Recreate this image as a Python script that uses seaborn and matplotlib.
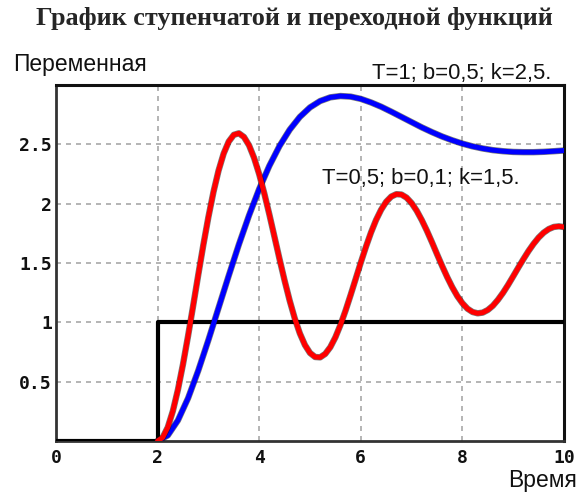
import matplotlib
matplotlib.use("Agg")
import matplotlib.pyplot as plt
import matplotlib.patheffects as pe
import pandas as pd
import seaborn as sns

# Step input: zero until t = 2, then a unit step
step_time = [0.0, 2.0, 10.0]
step_value = [0.0, 1.0, 1.0]

# Response of the lightly damped link (T=0,5; b=0,1; k=1,5), sampled every 0.1 s
red_time = [2.0, 2.1, 2.2, 2.3, 2.4, 2.5, 2.6, 2.7, 2.8, 2.9,
            3.0, 3.1, 3.2, 3.3, 3.4, 3.5, 3.6, 3.7, 3.8, 3.9,
            4.0, 4.1, 4.2, 4.3, 4.4, 4.5, 4.6, 4.7, 4.8, 4.9,
            5.0, 5.1, 5.2, 5.3, 5.4, 5.5, 5.6, 5.7, 5.8, 5.9,
            6.0, 6.1, 6.2, 6.3, 6.4, 6.5, 6.6, 6.7, 6.8, 6.9,
            7.0, 7.1, 7.2, 7.3, 7.4, 7.5, 7.6, 7.7, 7.8, 7.9,
            8.0, 8.1, 8.2, 8.3, 8.4, 8.5, 8.6, 8.7, 8.8, 8.9,
            9.0, 9.1, 9.2, 9.3, 9.4, 9.5, 9.6, 9.7, 9.8, 9.9,
            10.0]
red_value = [0.000, 0.030, 0.115, 0.252, 0.432, 0.647, 0.886, 1.140, 1.399, 1.651,
             1.887, 2.099, 2.279, 2.422, 2.523, 2.580, 2.593, 2.562, 2.492, 2.385,
             2.248, 2.087, 1.909, 1.722, 1.534, 1.352, 1.183, 1.033, 0.907, 0.809,
             0.742, 0.708, 0.705, 0.734, 0.791, 0.874, 0.979, 1.099, 1.231, 1.367,
             1.504, 1.635, 1.756, 1.862, 1.949, 2.016, 2.060, 2.080, 2.077, 2.051,
             2.005, 1.941, 1.862, 1.773, 1.676, 1.575, 1.476, 1.382, 1.296, 1.221,
             1.161, 1.115, 1.087, 1.076, 1.082, 1.104, 1.140, 1.190, 1.249, 1.316,
             1.388, 1.461, 1.532, 1.600, 1.661, 1.714, 1.756, 1.786, 1.804, 1.809,
             1.803]

# Response of the well damped link (T=1; b=0,5; k=2,5), sampled every 0.2 s
blue_time = [2.0, 2.2, 2.4, 2.6, 2.8, 3.0, 3.2, 3.4, 3.6, 3.8,
             4.0, 4.2, 4.4, 4.6, 4.8, 5.0, 5.2, 5.4, 5.6, 5.8,
             6.0, 6.2, 6.4, 6.6, 6.8, 7.0, 7.2, 7.4, 7.6, 7.8,
             8.0, 8.2, 8.4, 8.6, 8.8, 9.0, 9.2, 9.4, 9.6, 9.8,
             10.0]
blue_value = [0.000, 0.047, 0.174, 0.361, 0.593, 0.851, 1.122, 1.393, 1.656, 1.901,
              2.124, 2.319, 2.486, 2.623, 2.731, 2.811, 2.865, 2.896, 2.907, 2.902,
              2.883, 2.853, 2.817, 2.775, 2.731, 2.687, 2.643, 2.603, 2.566, 2.534,
              2.506, 2.483, 2.465, 2.451, 2.442, 2.436, 2.434, 2.434, 2.437, 2.442,
              2.448]

x_ticks = [0, 2, 4, 6, 8, 10]
x_tick_labels = ["0", "2", "4", "6", "8", "10"]
y_ticks = [0.5, 1.0, 1.5, 2.0, 2.5]
y_tick_labels = ["0.5", "1", "1.5", "2", "2.5"]

title_text = "График ступенчатой и переходной функций"
y_label_text = "Переменная"
x_label_text = "Время"
blue_label = "T=1; b=0,5; k=2,5."
red_label = "T=0,5; b=0,1; k=1,5."

sns.set_theme(style="white")
plt.rcParams["font.family"] = ["Liberation Sans", "DejaVu Sans"]

fig = plt.figure(figsize=(5.76, 5.0), dpi=100)
fig.patch.set_facecolor("white")
ax = fig.add_axes([56 / 576, 59 / 500, 508 / 576, 356 / 500])
ax.set_facecolor("white")

step_df = pd.DataFrame({"t": step_time, "v": step_value})
red_df = pd.DataFrame({"t": red_time, "v": red_value})
blue_df = pd.DataFrame({"t": blue_time, "v": blue_value})

sns.lineplot(data=step_df, x="t", y="v", ax=ax, color="black", linewidth=3.0,
             drawstyle="steps-post", estimator=None, sort=False, zorder=3)

edge = [pe.Stroke(linewidth=4.6, foreground="#101010", alpha=0.55), pe.Normal()]
sns.lineplot(data=blue_df, x="t", y="v", ax=ax, color="#0000ff", linewidth=3.6,
             estimator=None, sort=False, zorder=4, path_effects=edge)
sns.lineplot(data=red_df, x="t", y="v", ax=ax, color="#ff0000", linewidth=3.6,
             estimator=None, sort=False, zorder=5, path_effects=edge)

ax.set_xlim(0, 10)
ax.set_ylim(0, 3)
ax.set_xticks(x_ticks)
ax.set_xticklabels(x_tick_labels)
ax.set_yticks(y_ticks)
ax.set_yticklabels(y_tick_labels)
ax.set_xlabel("")
ax.set_ylabel("")

for lbl in ax.get_xticklabels() + ax.get_yticklabels():
    lbl.set_fontfamily("DejaVu Sans Mono")
    lbl.set_fontweight("bold")
    lbl.set_fontsize(13)
    lbl.set_color("#111111")

ax.tick_params(axis="x", length=0, pad=6.0)
ax.tick_params(axis="y", length=0, pad=3)

ax.grid(True, linestyle=(0, (3, 3)), color="#a8a8a8", linewidth=1.2)
ax.set_axisbelow(True)

for side in ["left", "bottom"]:
    ax.spines[side].set_linewidth(2.0)
    ax.spines[side].set_color("#333333")
for side in ["top", "right"]:
    ax.spines[side].set_linewidth(2.2)
    ax.spines[side].set_color("#111111")

fig.text(294 / 576, 1 - 18 / 500, title_text, ha="center", va="center",
         fontfamily="Liberation Serif", fontweight="bold", fontsize=18.8)
fig.text(13 / 576, 1 - 71 / 500, y_label_text, ha="left", va="baseline",
         fontsize=16.5, color="#111111")
fig.text(577 / 576, 1 - 487 / 500, x_label_text, ha="right", va="baseline",
         fontsize=16.5, color="#111111")
ax.text(6.22, 3.05, blue_label, ha="left", va="baseline", fontsize=15.8,
        color="#111111", clip_on=False)
ax.text(5.24, 2.168, red_label, ha="left", va="baseline", fontsize=15.8,
        color="#111111")

fig.savefig("out.png", dpi=100, facecolor="white")
